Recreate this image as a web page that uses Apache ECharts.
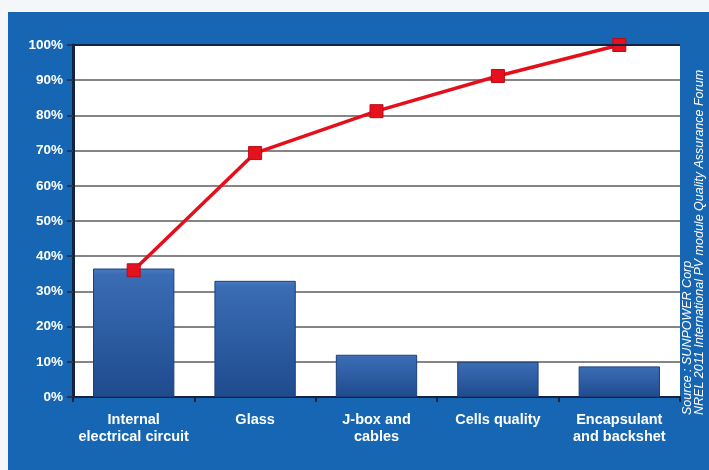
<!DOCTYPE html>
<html><head><meta charset="utf-8">
<script src="https://cdn.jsdelivr.net/npm/echarts@6/dist/echarts.min.js"></script>
<style>html,body{margin:0;padding:0;background:#f4f6f9;}#c{width:709px;height:470px;}</style>
</head><body><div id="c"></div>
<script>
const categories = ['Internal\nelectrical circuit', 'Glass', 'J-box and\ncables', 'Cells quality', 'Encapsulant\nand backshet'];
const barValues = [36.5, 33, 12, 10, 8.7];
const cumulativeValues = [36, 69.3, 81.2, 91.2, 100];
const yTicks = [0, 10, 20, 30, 40, 50, 60, 70, 80, 90, 100];
const sourceLines = ['Source : SUNPOWER Corp', 'NREL 2011 International PV module Quality Assurance Forum'];

const chart = echarts.init(document.getElementById('c'));
chart.setOption({
  backgroundColor: '#f4f6f9',
  animation: false,
  grid: { left: 73, right: 29, top: 45, bottom: 73, show: true, backgroundColor: '#ffffff', borderWidth: 0 },
  xAxis: {
    type: 'category', data: categories,
    axisLine: { lineStyle: { color: '#14233f', width: 2 } },
    axisTick: { show: true, interval: 0, length: 5, lineStyle: { color: '#14233f', width: 2 } },
    axisLabel: { interval: 0, color: '#ffffff', fontWeight: 'bold', fontSize: 14.5, fontFamily: 'Liberation Sans, Arial', lineHeight: 17, margin: 14 }
  },
  yAxis: {
    type: 'value', min: yTicks[0], max: yTicks[yTicks.length - 1], interval: 10,
    axisLine: { show: true, lineStyle: { color: '#14233f', width: 3 } },
    axisTick: { show: true, length: 6, lineStyle: { color: '#2a3550', width: 2 } },
    splitLine: { show: true, lineStyle: { color: '#858585', width: 2 } },
    axisLabel: { color: '#ffffff', fontWeight: 'bold', fontSize: 13.5, fontFamily: 'Liberation Sans, Arial', margin: 10, formatter: v => v + '%' }
  },
  series: [
    {
      type: 'bar', data: barValues, barWidth: '67%',
      itemStyle: {
        color: new echarts.graphic.LinearGradient(0, 0, 0, 1, [
          { offset: 0, color: '#4a7cc3' }, { offset: 0.05, color: '#3a6cb4' }, { offset: 1, color: '#1f4b8e' }
        ]),
        borderColor: '#1c3f78', borderWidth: 1
      }
    },
    {
      type: 'line', data: cumulativeValues, symbol: 'rect', symbolSize: 13,
      lineStyle: { color: '#e3101c', width: 3.5 },
      itemStyle: { color: '#e5121e', borderColor: '#b80c16', borderWidth: 1 },
      z: 5
    }
  ],
  graphic: [
    { type: 'rect', shape: { x: 8, y: 12, width: 701, height: 458 }, style: { fill: '#1766b3' }, z: -10, silent: true },
    { type: 'line', shape: { x1: 72, y1: 45, x2: 680, y2: 45 }, style: { stroke: '#14233f', lineWidth: 2 }, z: 10 },
    { type: 'text', x: 688, y: 415, rotation: Math.PI / 2,
      style: { text: sourceLines[0], fill: '#ffffff', font: 'italic 12.5px Liberation Sans, Arial', textAlign: 'left', textVerticalAlign: 'middle' } },
    { type: 'text', x: 700, y: 415, rotation: Math.PI / 2,
      style: { text: sourceLines[1], fill: '#ffffff', font: 'italic 12.5px Liberation Sans, Arial', textAlign: 'left', textVerticalAlign: 'middle' } }
  ]
});
</script></body></html>
